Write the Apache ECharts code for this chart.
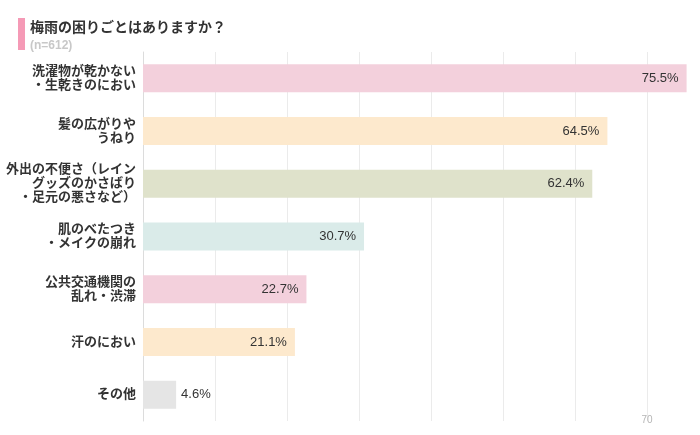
<!DOCTYPE html>
<html>
<head>
<meta charset="utf-8">
<script src="https://cdn.jsdelivr.net/npm/echarts@6/dist/echarts.min.js"></script>
<style>
  html, body { margin: 0; padding: 0; background: #fff; }
  #chart { width: 700px; height: 435px; }
</style>
</head>
<body>
<div id="chart"></div>
<script>
// 設問とデータ
const titleText = "梅雨の困りごとはありますか？";
const subText = "(n=612)";
const categories = [
  "洗濯物が乾かない\n・生乾きのにおい",
  "髪の広がりや\nうねり",
  "外出の不便さ（レイン\nグッズのかさばり\n・足元の悪さなど）",
  "肌のべたつき\n・メイクの崩れ",
  "公共交通機関の\n乱れ・渋滞",
  "汗のにおい",
  "その他",
];
const values = [75.5, 64.5, 62.4, 30.7, 22.7, 21.1, 4.6];
const shownTick = 70;

const palette = ["#f3d0dc", "#fde9cd", "#dfe2cb", "#daebe9", "#f3d0dc", "#fde9cd", "#e5e5e5"];
const fontFamily = '"Liberation Sans", "Noto Sans CJK JP", sans-serif';

const chart = echarts.init(document.getElementById("chart"));

const option = {
  animation: false,
  textStyle: { fontFamily: fontFamily },
  title: {
    text: titleText,
    subtext: subText,
    left: 25,
    top: 16,
    itemGap: 5,
    textStyle: { fontSize: 14, fontWeight: "bold", color: "#333", fontFamily: fontFamily },
    subtextStyle: { fontSize: 12, fontWeight: "bold", color: "#c8c8c8", fontFamily: fontFamily },
  },
  graphic: [
    {
      type: "rect",
      left: 18,
      top: 18,
      shape: { width: 7, height: 32 },
      style: { fill: "#f59ab6" },
    },
  ],
  grid: { left: 143, top: 52, width: 576, height: 369, outerBoundsMode: "none" },
  xAxis: {
    type: "value",
    min: 0,
    max: 80,
    interval: 10,
    axisLine: { show: false },
    axisTick: { show: false },
    splitLine: { show: true, lineStyle: { color: "#ebebeb", width: 1 } },
    axisLabel: {
      margin: -6,
      fontSize: 10,
      color: "#b5b5b5",
      formatter: (v) => (v === shownTick ? String(v) : ""),
    },
  },
  yAxis: {
    type: "category",
    inverse: true,
    data: categories,
    axisLine: { show: true, lineStyle: { color: "#dcdcdc" } },
    axisTick: { show: false },
    axisLabel: {
      margin: 7,
      fontSize: 13,
      fontWeight: "bold",
      color: "#333",
      lineHeight: 14,
      align: "right",
    },
  },
  series: [
    {
      type: "bar",
      barWidth: 28,
      data: values.map((v, i) => ({
        value: v,
        itemStyle: { color: palette[i] },
        label: {
          position: v < 10 ? "right" : "insideRight",
          distance: v < 10 ? 5 : 8,
        },
      })),
      label: {
        show: true,
        fontSize: 13,
        color: "#333",
        formatter: (p) => p.value + "%",
      },
    },
  ],
};

chart.setOption(option);
</script>
</body>
</html>
